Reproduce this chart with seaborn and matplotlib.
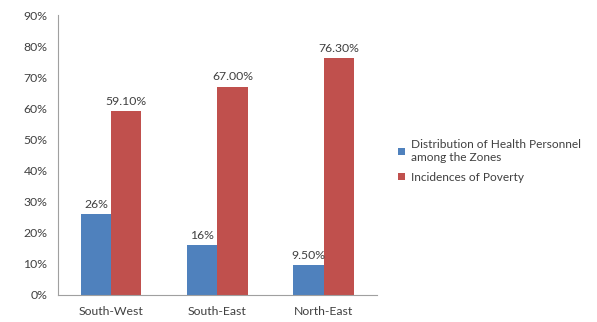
import matplotlib
matplotlib.use("Agg")
import matplotlib.pyplot as plt
import seaborn as sns
import pandas as pd
from matplotlib.ticker import FixedLocator, PercentFormatter

zones = ["South-West", "South-East", "North-East"]
series_names = ["Distribution of Health Personnel\namong the Zones", "Incidences of Poverty"]
health = [26.0, 16.0, 9.5]
poverty = [59.1, 67.0, 76.3]
health_labels = ["26%", "16%", "9.50%"]
poverty_labels = ["59.10%", "67.00%", "76.30%"]
colors = ["#4F81BD", "#C0504D"]

df = pd.DataFrame({
    "zone": zones * 2,
    "series": [series_names[0]] * 3 + [series_names[1]] * 3,
    "value": health + poverty,
})

sns.set_style("white")
plt.rcParams["font.family"] = ["Lato", "DejaVu Sans"]

fig = plt.figure(figsize=(5.97, 3.22), dpi=100)
ax = fig.add_axes([0.097, 0.084, 0.534, 0.869])
sns.barplot(data=df, x="zone", y="value", hue="series", palette=colors,
            width=0.57, saturation=1, ax=ax, legend=True,
            linewidth=0, edgecolor="none")

txt = "#404040"
for cont, labs in zip(ax.containers, [health_labels, poverty_labels]):
    ax.bar_label(cont, labels=labs, padding=3, fontsize=8.8, color=txt)

ax.set_ylim(0, 90)
ax.set_yticks(range(0, 91, 10))
ax.yaxis.set_major_formatter(PercentFormatter(decimals=0))
ax.set_xlim(-0.5, 2.5)
ax.xaxis.set_minor_locator(FixedLocator([-0.5, 0.5, 1.5, 2.5]))
ax.tick_params(axis="x", which="major", length=0, labelsize=8.8, labelcolor=txt, pad=8)
ax.tick_params(axis="x", which="minor", length=4, color="#A0A0A0", direction="out")
ax.tick_params(axis="y", length=4, color="#A0A0A0", direction="out", labelsize=8.8, labelcolor=txt)
ax.set_xlabel("")
ax.set_ylabel("")
for s in ["top", "right"]:
    ax.spines[s].set_visible(False)
for s in ["left", "bottom"]:
    ax.spines[s].set_color("#A0A0A0")
    ax.spines[s].set_linewidth(0.8)

handles, labels = ax.get_legend_handles_labels()
ax.legend_.remove()
fig.legend(handles, labels, loc="center left", bbox_to_anchor=(0.648, 0.5),
           frameon=False, fontsize=8.6, handlelength=0.6, handleheight=0.6,
           handletextpad=0.5, labelspacing=0.7, labelcolor=txt)

fig.savefig("out.png", dpi=100)
